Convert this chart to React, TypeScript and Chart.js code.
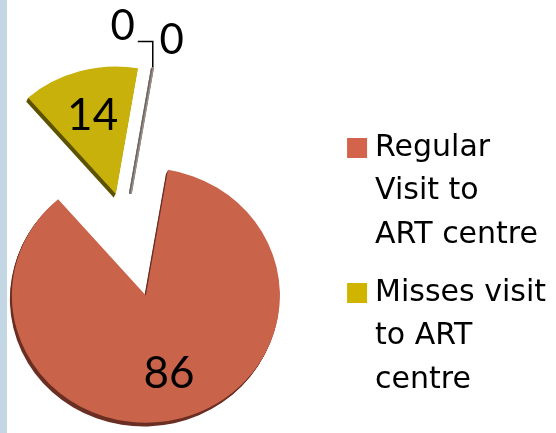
import React, { useEffect, useRef } from 'react';
import { Chart, registerables } from 'chart.js';

Chart.register(...registerables);

// ---- data ----
const categories: (string | string[])[] = [
  ['Regular', 'Visit to', 'ART centre'],
  ['Misses visit', 'to ART', 'centre'],
  '',
  '',
];
const values = [86, 14, 0, 0];
const sliceColors = ['#C9644B', '#C8B10A', '#9A8F88', '#9A8F88'];
const legendColors = ['#D3634B', '#CFB400'];
const depthColors = ['#6A2E22', '#5C5200', '#6d6560', '#6d6560'];
const explode = [77, 34, 34, 34];
const legendCount = 2;
const leftBleed = 90;
const tilt = 0.95; // vertical squash for the slight 3-D tilt

const layoutPlugin = {
  id: 'pieArea',
  afterLayout(chart: any) {
    const a = chart.chartArea;
    a.left -= leftBleed;
    a.width = a.right - a.left;
  },
};

const centerY = (chart: any) => (chart.chartArea.top + chart.chartArea.bottom) / 2;

const explodePlugin = {
  id: 'explodeSlices',
  afterDatasetUpdate(chart: any, args: any) {
    const meta = chart.getDatasetMeta(args.index);
    meta.data.forEach((arc: any, i: number) => {
      const d = explode[i] || 0;
      const mid = (arc.startAngle + arc.endAngle) / 2;
      arc.x += Math.cos(mid) * d;
      arc.y += Math.sin(mid) * d;
    });
  },
  beforeDatasetsDraw(chart: any) {
    const ctx = chart.ctx;
    const cy = centerY(chart);
    ctx.save();
    ctx.translate(0, cy);
    ctx.scale(1, tilt);
    ctx.translate(0, -cy);
    const meta = chart.getDatasetMeta(0);
    meta.data.forEach((arc: any, i: number) => {
      const { x, y, startAngle, endAngle, outerRadius } = arc;
      if (endAngle - startAngle <= 0) return;
      ctx.save();
      ctx.fillStyle = depthColors[i];
      for (let k = 1; k <= 4; k++) {
        const cx = x - k * 0.5;
        const cyy = y + k;
        ctx.beginPath();
        ctx.moveTo(cx, cyy);
        ctx.arc(cx, cyy, outerRadius, startAngle, endAngle);
        ctx.closePath();
        ctx.fill();
      }
      ctx.restore();
    });
  },
  afterDatasetsDraw(chart: any) {
    const ctx = chart.ctx;
    ctx.restore(); // end of tilt transform
    const cy = centerY(chart);
    const ty = (yy: number) => cy + (yy - cy) * tilt;
    const meta = chart.getDatasetMeta(0);
    let zeroCount = 0;
    meta.data.forEach((arc: any, i: number) => {
      const { x, y, startAngle, endAngle, outerRadius } = arc;
      const v = values[i];
      ctx.save();
      ctx.fillStyle = '#000';
      ctx.textAlign = 'center';
      ctx.textBaseline = 'middle';
      ctx.font = '44px Lato';
      if (endAngle - startAngle > 0) {
        const mid = (startAngle + endAngle) / 2;
        const r = outerRadius * 0.64;
        ctx.fillText(String(v), x + Math.cos(mid) * r, ty(y + Math.sin(mid) * r));
      } else {
        // zero-width slice seen edge-on
        const sx = x;
        const sy = ty(y);
        const px = x + Math.cos(startAngle) * outerRadius;
        const py = ty(y + Math.sin(startAngle) * outerRadius);
        ctx.strokeStyle = depthColors[i];
        ctx.lineWidth = 2.5;
        ctx.beginPath();
        ctx.moveTo(sx - 0.5, sy + 0.5);
        ctx.lineTo(px - 0.5, py + 0.5);
        ctx.stroke();
        ctx.strokeStyle = sliceColors[i];
        ctx.lineWidth = 1.5;
        ctx.beginPath();
        ctx.moveTo(sx + 0.5, sy);
        ctx.lineTo(px + 0.5, py);
        ctx.stroke();
        ctx.font = '42px Lato';
        if (zeroCount === 0) {
          ctx.strokeStyle = '#000';
          ctx.lineWidth = 1.5;
          ctx.beginPath();
          ctx.moveTo(px, py);
          ctx.lineTo(px, py - 26);
          ctx.lineTo(px - 15, py - 26);
          ctx.stroke();
          ctx.fillText(String(v), px - 30, py - 41);
        } else {
          ctx.fillText(String(v), px + 19, py - 27);
        }
        zeroCount++;
      }
      ctx.restore();
    });
  },
};

export default function App() {
  const ref = useRef<HTMLCanvasElement>(null);
  useEffect(() => {
    const chart = new Chart(ref.current as HTMLCanvasElement, {
      type: 'pie',
      data: {
        labels: categories as any,
        datasets: [
          {
            data: values,
            backgroundColor: sliceColors,
            borderWidth: 0,
            radius: 134,
          } as any,
        ],
      },
      options: {
        responsive: false,
        animation: false,
        events: [],
        rotation: 9.5,
        layout: { padding: { left: 0, right: 0, top: 27, bottom: 10 } },
        plugins: {
          tooltip: { enabled: false },
          legend: {
            position: 'right',
            align: 'end',
            labels: {
              boxWidth: 6,
              boxHeight: 6,
              padding: 14,
              color: '#000',
              font: { family: "'DejaVu Sans'", size: 30, lineHeight: 43.67 / 30 },
              generateLabels: (c: any) =>
                (c.data.labels as any[]).slice(0, legendCount).map((label, i) => ({
                  text: label,
                  fillStyle: legendColors[i],
                  strokeStyle: legendColors[i],
                  lineWidth: 14,
                  hidden: false,
                  index: i,
                  fontColor: '#000',
                })),
            },
          },
        },
      } as any,
      plugins: [layoutPlugin, explodePlugin],
    });
    return () => chart.destroy();
  }, []);
  return (
    <div
      style={{
        position: 'fixed',
        left: 0,
        top: 0,
        width: 556,
        height: 433,
        background: 'linear-gradient(to right, #c2d6e4 0px, #c2d6e4 7px, #ffffff 7px)',
      }}
    >
      <canvas ref={ref} width={556} height={433} style={{ display: 'block', width: 556, height: 433 }} />
    </div>
  );
}
